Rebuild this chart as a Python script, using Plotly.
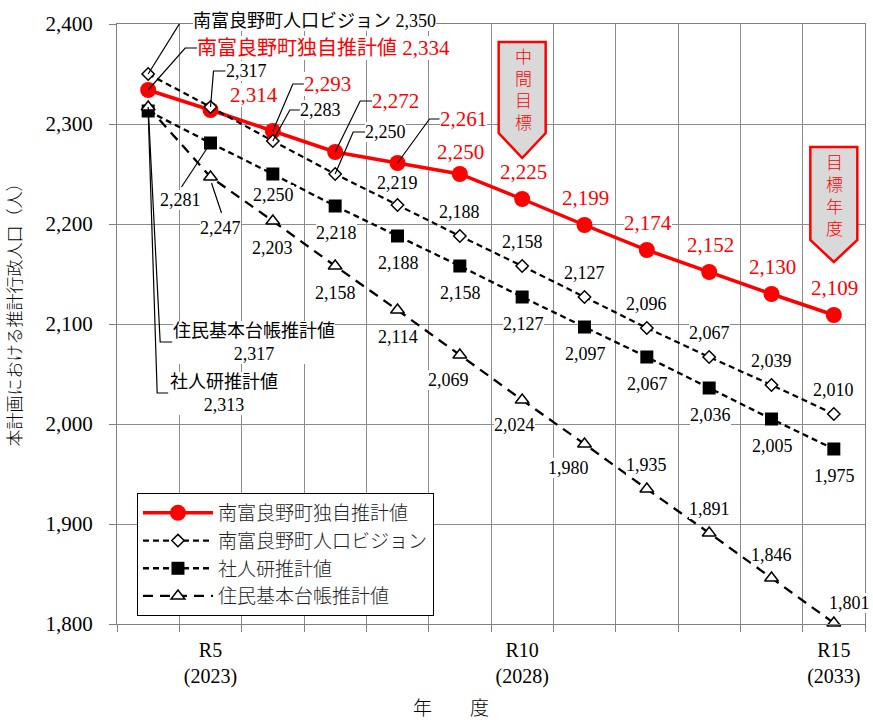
import plotly.graph_objects as go

# ---------------- data ----------------
periods = ["R4", "R5", "R6", "R7", "R8", "R9", "R10", "R11", "R12", "R13", "R14", "R15"]
years = [2022, 2023, 2024, 2025, 2026, 2027, 2028, 2029, 2030, 2031, 2032, 2033]
tick_periods = ["R5", "R10", "R15"]

own_est = [2334, 2314, 2293, 2272, 2261, 2250, 2225, 2199, 2174, 2152, 2130, 2109]
vision = [2350, 2317, 2283, 2250, 2219, 2188, 2158, 2127, 2096, 2067, 2039, 2010]
ipss = [2313, 2281, 2250, 2218, 2188, 2158, 2127, 2097, 2067, 2036, 2005, 1975]
resident = [2317, 2247, 2203, 2158, 2114, 2069, 2024, 1980, 1935, 1891, 1846, 1801]

name_own = "南富良野町独自推計値"
name_vision = "南富良野町人口ビジョン"
name_ipss = "社人研推計値"
name_res = "住民基本台帳推計値"

milestones = [("R10", "中間目標"), ("R15", "目標年度")]

y_title = "本計画における推計行政人口（人）"
x_title = "年　　度"

# ---------------- styling ----------------
NUM = "Liberation Serif, Noto Sans CJK JP"
JP = "Noto Sans CJK JP"
GRID = "#8c8c8c"
RED = "#ff0000"

xi = list(range(len(periods)))

fig = go.Figure()

fig.add_trace(go.Scatter(
    x=xi, y=ipss, name=name_ipss, mode="lines+markers", legendrank=3,
    line=dict(color="black", width=2.3, dash="6px,4px"),
    marker=dict(symbol="square", size=13, color="black"), cliponaxis=False))
fig.add_trace(go.Scatter(
    x=xi, y=resident, name=name_res, mode="lines+markers", legendrank=4,
    line=dict(color="black", width=2.3, dash="10px,7px"),
    marker=dict(symbol="triangle-up", size=12, color="white", line=dict(color="black", width=1.5)),
    cliponaxis=False))
fig.add_trace(go.Scatter(
    x=xi, y=own_est, name=name_own, mode="lines+markers", legendrank=1,
    line=dict(color=RED, width=3.5),
    marker=dict(symbol="circle", size=16, color=RED), cliponaxis=False))
fig.add_trace(go.Scatter(
    x=xi, y=vision, name=name_vision, mode="lines+markers", legendrank=2,
    line=dict(color="black", width=2.2, dash="6px,4px"),
    marker=dict(symbol="diamond", size=9.5, color="white", line=dict(color="black", width=1.5)),
    cliponaxis=False))

# ---------------- data labels ----------------
# offsets (screen px, dx right / dy down), anchor, leader polyline relative to point
own_lab = [
    (49, -42, "left", [(0, 0), (37, -42), (49, -42)]),
    (43, -15, "center", None),
    (31, -47, "left", [(0, 0), (20, -47), (31, -47)]),
    (37, -51, "left", [(0, 0), (25, -51), (37, -51)]),
    (42, -44, "left", [(0, 0), (32, -44), (42, -44)]),
    (1, -22, "center", None),
] + [(1, -27, "center", None)] * 6

vis_lab = [
    (45, -53, "left", [(0, 0), (33, -53), (45, -53)]),
    (15, -36, "left", [(0, 0), (3, -36), (15, -36)]),
    (27, -31, "left", [(0, 0), (17, -31), (27, -31)]),
    (30, -42, "left", [(0, 0), (18, -42), (30, -42)]),
    (0, -22, "center", None),
] + [(0, -24, "center", None)] * 7

ipss_lab = [
    (22, 282, "left", [(0, 0), (9, 282), (20, 282)]),
    (-30, 57, "center", [(0, 0), (-29, 44)]),
    (1, 21, "center", None),
] + [(1, 27, "center", None)] * 9

res_lab = [
    (25, 235, "left", [(0, 0), (12, 235), (24, 235)]),
    (10, 51, "center", [(1, 6), (11, 36)]),
    (0, 27, "center", None),
    (0, 27, "center", None),
    (0, 27, "center", None),
    (-11, 25, "center", None),
    (-8, 25, "center", None),
    (-16, 24, "center", None),
    (0, -24, "center", None),
    (0, -24, "center", None),
    (0, -23, "center", None),
    (16, -20, "center", None),
]

annotations = []
shapes = []


def fmt(v):
    return f"{v:,}"


def add_labels(values, specs, color, size, first_text):
    for i, (v, (dx, dy, anc, leader)) in enumerate(zip(values, specs)):
        text = first_text(v) if i == 0 else fmt(v)
        annotations.append(dict(
            x=xi[i], y=v, xref="x", yref="y", text=text, showarrow=False,
            xanchor=anc, yanchor="middle", xshift=dx, yshift=-dy,
            font=dict(family=NUM, size=size, color=color),
            bgcolor="white", borderpad=0, borderwidth=0, align="center"))
        if leader:
            path = "M" + " L".join(f"{px},{-py}" for px, py in leader)
            shapes.append(dict(
                type="path", xref="x", yref="y", xsizemode="pixel", ysizemode="pixel",
                xanchor=xi[i], yanchor=v, path=path,
                line=dict(color="black", width=1.2), layer="above"))


add_labels(own_est, own_lab, RED, 21,
           lambda v: f'<span style="font-size:20px">{name_own}</span> {fmt(v)}')
add_labels(vision, vis_lab, "black", 18,
           lambda v: f'<span style="font-size:18px">{name_vision}</span> {fmt(v)}')
add_labels(ipss, ipss_lab, "black", 18,
           lambda v: f'<span style="font-size:18px">{name_ipss}</span><br>{fmt(v)}')
add_labels(resident, res_lab, "black", 18,
           lambda v: f'<span style="font-size:18px">{name_res}</span><br>{fmt(v)}')

# ---------------- milestone callouts ----------------
callout_geom = {  # (top, shoulder, tip, text centre) in data units
    "R10": (2382, 2291, 2266, 2336),
    "R15": (2277, 2184, 2162, 2230),
}
for per, label in milestones:
    top, sh, tip, mid = callout_geom[per]
    xc = periods.index(per)
    w = 23.5
    shapes.append(dict(
        type="path", xref="x", yref="y", xsizemode="pixel", xanchor=xc,
        path=f"M{-w},{top} L{w},{top} L{w},{sh} L0,{tip} L{-w},{sh} Z",
        fillcolor="#d9d9d9", line=dict(color=RED, width=2.5), layer="above"))
    annotations.append(dict(
        x=xc, y=mid, xref="x", yref="y", xshift=1, showarrow=False,
        text="<br>".join(label), font=dict(family=JP, size=17, color=RED, weight=300),
        xanchor="center", yanchor="middle", align="center"))

# ---------------- axis titles ----------------
annotations.append(dict(
    x=-0.138, y=0.522, xref="paper", yref="paper", text=y_title, textangle=-90,
    showarrow=False, font=dict(family=JP, size=17, color="black", weight=300),
    xanchor="center", yanchor="middle"))
annotations.append(dict(
    x=0.4465, y=-0.138, xref="paper", yref="paper", text=x_title,
    showarrow=False, font=dict(family=JP, size=19, color="black", weight=300),
    xanchor="center", yanchor="middle"))

tickvals = [periods.index(p) for p in tick_periods]
ticktext = [f"{p}<br>({years[periods.index(p)]})" for p in tick_periods]

fig.update_layout(
    width=873, height=722,
    margin=dict(l=117, r=8, t=24, b=98),
    paper_bgcolor="white", plot_bgcolor="white",
    showlegend=True,
    legend=dict(
        x=0.0267, y=0.2183, xanchor="left", yanchor="top",
        bgcolor="white", bordercolor="black", borderwidth=1,
        font=dict(family=JP, size=19, color="#222", weight=300),
        itemwidth=70, tracegroupgap=0),
    xaxis=dict(
        range=[-0.5, len(periods) - 0.5], tickmode="array", tickvals=tickvals, ticktext=ticktext,
        showgrid=False, ticks="", zeroline=False, ticklabelstandoff=8,
        tickfont=dict(family=NUM, size=20, color="black"),
        showline=True, linecolor="#808080", linewidth=1.2, mirror=True,
        minor=dict(tickmode="array", tickvals=[i - 0.5 for i in range(len(periods) + 1)],
                   showgrid=True, gridcolor=GRID, gridwidth=1.2,
                   ticks="outside", ticklen=7, tickcolor="#808080", tickwidth=1.2)),
    yaxis=dict(
        range=[1800, 2400], tick0=1800, dtick=100, tickformat=",",
        showgrid=True, gridcolor=GRID, gridwidth=1.2, zeroline=False,
        ticks="outside", ticklen=7, tickcolor="#808080", tickwidth=1.2,
        showline=True, linecolor="#808080", linewidth=1.2, mirror=True,
        ticklabelstandoff=12,
        tickfont=dict(family=NUM, size=21, color="black")),
    annotations=annotations,
    shapes=shapes,
)

fig.write_html("out.html")
